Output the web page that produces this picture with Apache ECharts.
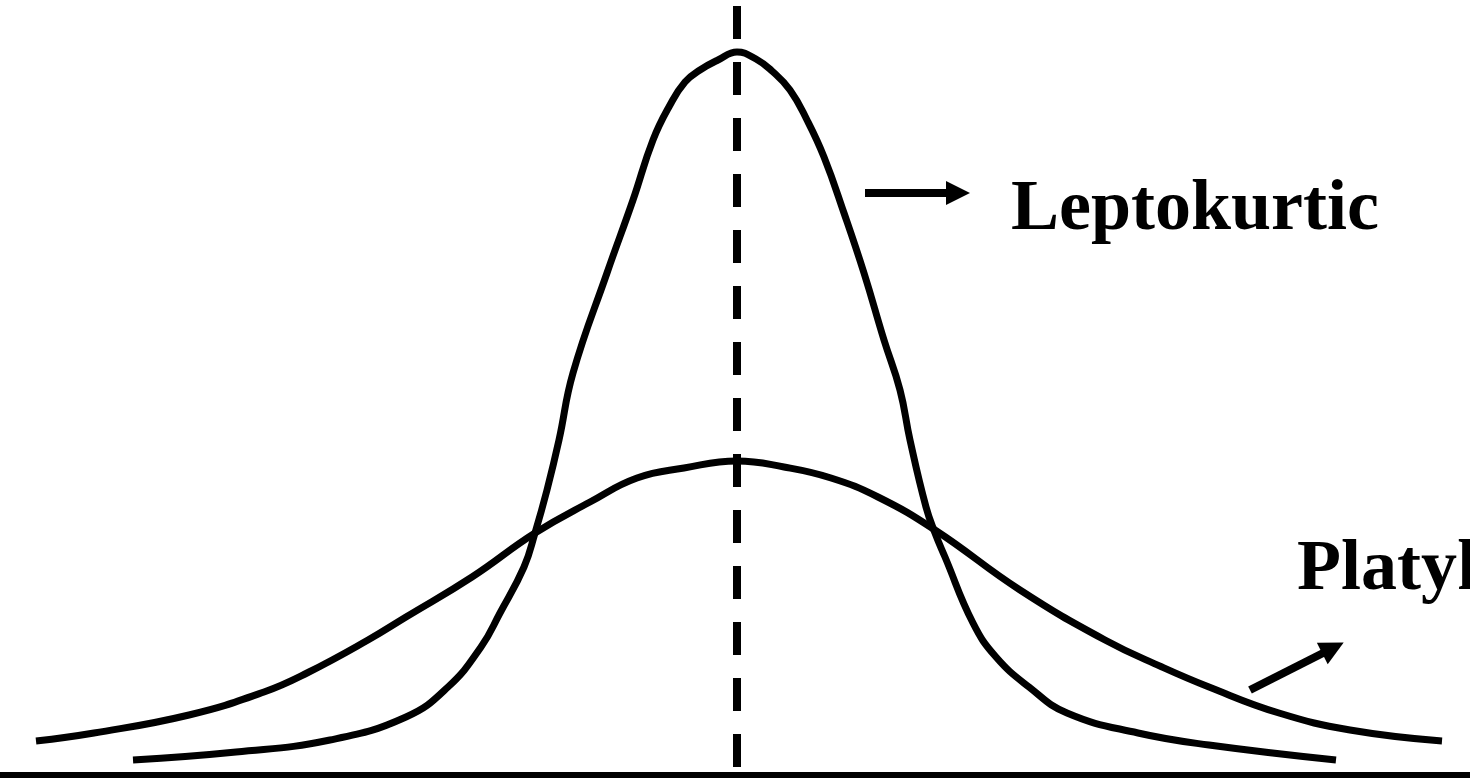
<!DOCTYPE html>
<html>
<head>
<meta charset="utf-8">
<title>Kurtosis</title>
<script src="https://cdn.jsdelivr.net/npm/echarts@6/dist/echarts.min.js"></script>
<style>
  html, body { margin: 0; padding: 0; background: #fff; }
  #app { width: 1470px; height: 778px; }
</style>
</head>
<body>
<div id="app"></div>
<script>
const leptoX = [133, 236, 330, 406, 448, 481, 500, 524, 535, 547, 559, 573, 607, 633, 653, 670, 685, 700, 718, 737,
  756, 772, 790, 807, 824, 844, 864, 884, 900, 910, 926, 935, 945, 973, 996, 1029, 1067, 1138, 1209, 1336];
const leptoY = [15, 23, 35, 58, 88, 128, 162, 208, 242, 285, 335, 402, 502, 575, 635, 670, 693, 705, 715, 723,
  716, 704, 685, 655, 618, 562, 502, 435, 385, 335, 268, 242, 218, 152, 118, 88, 62, 42, 30, 15];

const platyX = [36, 94, 189, 264, 307, 368, 406, 472, 535, 590, 637, 684, 737,
  784, 831, 878, 935, 1020, 1105, 1162, 1209, 1279, 1350, 1442];
const platyY = [34, 42, 60, 83, 102, 135, 158, 198, 242, 273, 297, 307, 314,
  308, 297, 278, 245, 185, 135, 108, 88, 62, 45, 34];

const meanX = 737;
const meanTop = 769;

// arrow start / end points
const leptoArrow = [[865, 582], [958, 582]];
const platyArrow = [[1250, 85], [1333, 127]];

const labels = ["Leptokurtic", "Platykurtic"];

const zip = (xs, ys) => xs.map((x, i) => [x, ys[i]]);

const dom = document.getElementById("app");
const myChart = echarts.init(dom);

const curveStyle = { color: "#000", width: 7 };

myChart.setOption({
  animation: false,
  grid: { left: 0, right: 0, top: 0, bottom: 3 },
  xAxis: {
    type: "value",
    min: 0,
    max: 1470,
    axisLine: { show: true, onZero: false, lineStyle: { color: "#000", width: 7 } },
    axisTick: { show: false },
    axisLabel: { show: false },
    splitLine: { show: false }
  },
  yAxis: {
    type: "value",
    min: 0,
    max: 775,
    show: false
  },
  series: [
    {
      name: "mean",
      type: "line",
      symbol: "none",
      data: [[meanX, meanTop], [meanX, 0]],
      lineStyle: { color: "#000", width: 8, type: [33, 23], cap: "butt" }
    },
    {
      name: "Leptokurtic",
      type: "line",
      symbol: "none",
      smooth: 0.45,
      data: zip(leptoX, leptoY),
      lineStyle: curveStyle
    },
    {
      name: "Platykurtic",
      type: "line",
      symbol: "none",
      smooth: 0.45,
      data: zip(platyX, platyY),
      lineStyle: curveStyle
    },
    {
      type: "lines",
      coordinateSystem: "cartesian2d",
      symbol: ["none", "triangle"],
      symbolSize: [16, 24],
      lineStyle: { color: "#000", width: 8, opacity: 1 },
      data: [{ coords: leptoArrow }, { coords: platyArrow }]
    }
  ],
  graphic: [
    {
      type: "text",
      left: 1011,
      top: 174,
      style: { text: labels[0], font: "bold 72px 'Liberation Serif'", fill: "#000" }
    },
    {
      type: "text",
      left: 1297,
      top: 534,
      style: { text: labels[1], font: "bold 72px 'Liberation Serif'", fill: "#000" }
    }
  ]
});
</script>
</body>
</html>
